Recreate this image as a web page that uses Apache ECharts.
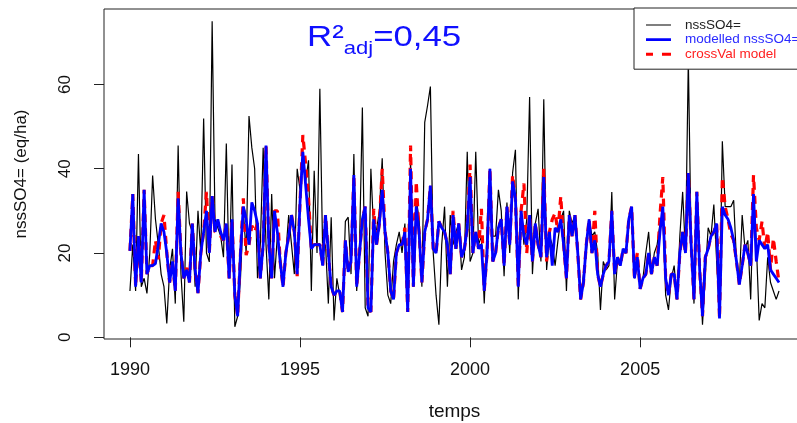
<!DOCTYPE html>
<html>
<head>
<meta charset="utf-8">
<script src="https://cdn.jsdelivr.net/npm/echarts@6/dist/echarts.min.js"></script>
<style>
html,body{margin:0;padding:0;background:#fff;}
#chart{width:797px;height:423px;}
</style>
</head>
<body>
<div id="chart"></div>
<script>
// Monthly series starting January 1990
var startYear = 1990;
var frequency = 12;

var observed = [11,22,11,43.5,12,14,10.4,20,38.4,28,22,15,12,3.3,16,21,8,45.5,15,3.7,34.6,27,25,12,30,20,51.9,20,17.9,75,
28,26,24,19,46,14,41,2.5,5,14,30,20,52.5,45,40,14,22,45,22,9,34,14,24,20,12,20,29,22,15,40,35,44,37,42,11,39.5,20,59,20,22,8,28.5,4,14,10,6,27.5,28.5,15,43.5,11,22,54.5,7,5,40,25,25.5,30,42.5,20,10,8,18,22,25,20,27,6,42,12,33,28,12,51,55,59.5,20,10,3,22,31,12,29,22,25,27,16,19,44,18,20,44,22,24,8,25,40,24,24,35,30,14.5,32,20,39,44.5,9,31,22,28,57,15,27,30.5,18,56.5,16,24,22,17,
23,
28,30,11,30,27,29,22,9,15,20,28,24,25,20,6.5,18,16,17,34.5,9,18,17,21,20,28,30,14,19,12,14,20,25,15,20,22,27,29,10,6.5,14,17,9,24,34.5,20,66,22,8,30,18,3,15,26,24,31.5,18,5,46.5,31,31,31,32.5,18,13,29,21,23,9,34,22,4,8,7,19,13,11,9,11];

var modelled = [20.5,34,12,24,13,35,15,17,17,17.5,22,27,25,20,13,18,11,33,20,14,16,13,27,16,10.5,20,25,30,20,33.5,
25,28,25,23,27,14,28,10,5,20,31,28,22,32,30,27,14,22,45.5,22,14,30,25,18,12,20,24,29,25,15,
32,44,36,28,21,22,22,22,17,29,20,12,10,11,11,6,23,15.5,18,38.5,12,20,28,31,7,6,28,22,27,35,
25,20,11,9,20,22,22,25,6,40,12,31,25,13,25,28,36,21,20,27.5,26,25,22,15,29,21,27,19,21,26,
38,20,25,21,22,11,20,40,18,20,26,28,17,31,22,37,33,12,30,24,22,29,18,27,22,19,38,19,25,17,
26,25,28,22,14,29,24,29,20,9,13,22,28,20,23,15,12,15,17,18,30,15,19,17,21,20,28,31,14,19,
11.5,14,15,20,15,19,17,25,31,14,10,15,15,9,20,25,20,39,22,9,34.5,16,5,19,21,24,25,27,4.5,31,
29,28,26,23,18,12.5,17,22,20,17,34,18,23,22,21,22,16,15,14,13];

var crossVal = [20.5,34,12,24,13,35,15,17,17,23,18.5,27,29,20,13,18,11,34.5,20,14,16.5,13,27,16,10.5,20,25,34.5,20,33.5,
25,24.5,24,23,27,14,28,10,5,20,33,19.5,22,26.5,25,27,14,22,45.5,22,14,30,30,18,12,20,24,29,25,14.5,
32,48,41,33,21,22,22,22,17,29,20,12,10,11,11,6,23,15.5,18,38.5,12,20,28,31,7,6,30.5,22,27,40,
25,20,11,9,20,22,22,26,6,45.5,12,37,25,13,25,28,36,21,20,27.5,26,25,22,15,30,21,27,19,21,26,
41,20,25,21,30.5,11,20,40,18,20,26,28,17,31,22,38.5,33,12,30,36.5,20,29,18,27,22,19,40,18,25,28,
29.5,25,33.5,22,14,29,24,29,20,9,13,22,28,20,30,15,12,15,17,18,30,15,19,17,21,20,28,31,14,20,
11.5,14,15,20,15,19,17,29,38,14,10,15,15,9,20,25,20,39,22,9,34.5,16,5,19,21,24,25,27,4.5,38,
31,28,24.5,23,18,12.5,17,22,20,17,38.5,26,23,27.5,21,25,16,23.5,18,13];

var xTicks = [1990, 1995, 2000, 2005];
var yTicks = [0, 20, 40, 60];

function toPairs(arr) {
  return arr.map(function (v, i) { return [startYear + i / frequency, v]; });
}
function plain(v) { return String(v); }

var chart = echarts.init(document.getElementById('chart'), null, {renderer: 'canvas'});
var font = 'Liberation Sans, Arial, Helvetica, sans-serif';

// legend icons: line samples (invisible corner dots keep the 25x12 box unscaled)
var iconSolidThin = 'path://M0,0h0.01v0.01h-0.01z M0,5.4h25v1.2h-25z M25,12h0.01v0.01h-0.01z';
var iconSolidThick = 'path://M0,0h0.01v0.01h-0.01z M0,4.6h25v2.8h-25z M25,12h0.01v0.01h-0.01z';
var iconDashed = 'path://M0,0h0.01v0.01h-0.01z M0,4.5h7v3h-7z M16,4.5h9v3h-9z M25,12h0.01v0.01h-0.01z';

chart.setOption({
  animation: false,
  backgroundColor: '#ffffff',
  grid: {
    left: 104, top: 9, width: 701, height: 330,
    outerBoundsMode: 'none', containLabel: false,
    show: true, borderColor: '#222', borderWidth: 1, backgroundColor: 'transparent'
  },
  xAxis: {
    type: 'value', min: 1989.237, max: 2009.847,
    splitLine: {show: false},
    axisLine: {show: false},
    axisTick: {show: true, length: 10, customValues: xTicks, lineStyle: {color: '#222'}},
    axisLabel: {customValues: xTicks, formatter: plain, margin: 22, color: '#111', fontSize: 18, fontFamily: font},
    name: 'temps', nameLocation: 'middle', nameGap: 63,
    nameTextStyle: {fontSize: 19, color: '#111', fontFamily: font}
  },
  yAxis: {
    type: 'value', min: -0.4, max: 77.9,
    splitLine: {show: false},
    axisLine: {show: false},
    axisTick: {show: true, length: 10, customValues: yTicks, lineStyle: {color: '#222'}},
    axisLabel: {customValues: yTicks, formatter: plain, rotate: 90, margin: 30, color: '#111', fontSize: 17, fontFamily: font},
    name: 'nssSO4= (eq/ha)', nameLocation: 'middle', nameGap: 74,
    nameTextStyle: {fontSize: 17, color: '#111', fontFamily: font}
  },
  legend: {
    orient: 'vertical', left: 634, top: 8,
    padding: [10, 10, 8, 12],
    itemWidth: 25, itemHeight: 12, itemGap: 0.6,
    backgroundColor: '#fff', borderColor: '#222', borderWidth: 1,
    textStyle: {fontSize: 13.5, lineHeight: 12, fontFamily: font, padding: [0, 0, 0, 9]},
    data: [
      {name: 'nssSO4=', icon: iconSolidThin, textStyle: {color: '#222'}},
      {name: 'modelled nssSO4=', icon: iconSolidThick, textStyle: {color: '#2a2aff'}},
      {name: 'crossVal model', icon: iconDashed, textStyle: {color: '#ff2020'}}
    ]
  },
  graphic: [{
    type: 'text', left: 307, top: 23, z: 100, scaleX: 1.16,
    style: {
      text: '{a|R²}{b|adj}{a|=0,45}',
      rich: {
        a: {fontSize: 30, fontFamily: font, fill: '#1010ff', lineHeight: 34, verticalAlign: 'bottom'},
        b: {fontSize: 19, fontFamily: font, fill: '#1010ff', lineHeight: 34, verticalAlign: 'bottom', padding: [0, 0, -5, 0]}
      }
    }
  }],
  series: [
    {
      name: 'nssSO4=', type: 'line', data: toPairs(observed), showSymbol: false, symbol: 'none',
      lineStyle: {color: '#000', width: 1.2}, itemStyle: {color: '#000'}, z: 1
    },
    {
      name: 'crossVal model', type: 'line', data: toPairs(crossVal), showSymbol: false, symbol: 'none',
      lineStyle: {color: '#ff0000', width: 3.2, type: [8, 6]}, itemStyle: {color: '#ff0000'}, z: 2
    },
    {
      name: 'modelled nssSO4=', type: 'line', data: toPairs(modelled), showSymbol: false, symbol: 'none',
      lineStyle: {color: '#0000ff', width: 2.8}, itemStyle: {color: '#0000ff'}, z: 3
    }
  ]
});
</script>
</body>
</html>
